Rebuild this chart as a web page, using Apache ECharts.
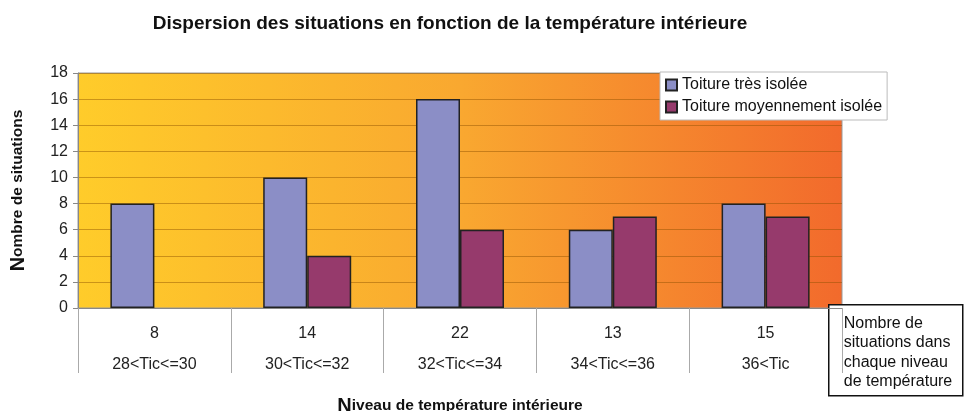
<!DOCTYPE html>
<html>
<head>
<meta charset="utf-8">
<script src="https://cdn.jsdelivr.net/npm/echarts@6/dist/echarts.min.js"></script>
<style>
  html, body { margin: 0; padding: 0; background: #fff; }
  #chart { width: 964px; height: 411px; }
</style>
</head>
<body>
<div id="chart"></div>
<script>
// categories and values
var categories = ["28<Tic<=30", "30<Tic<=32", "32<Tic<=34", "34<Tic<=36", "36<Tic"];
var totals = [8, 14, 22, 13, 15];
var tresIsolee = [8, 10, 16, 6, 8];
var moyIsolee = [0, 4, 6, 7, 7];
var yTicks = [0, 2, 4, 6, 8, 10, 12, 14, 16, 18];

var font = "Liberation Sans, Arial, sans-serif";
var myChart = echarts.init(document.getElementById("chart"));

// a zero bar is not drawn at all (no flat border line)
function noZero(arr) {
  return arr.map(function (v) { return v === 0 ? "-" : v; });
}

var option = {
  animation: false,
  textStyle: { fontFamily: font },
  title: {
    text: "Dispersion des situations en fonction de la température intérieure",
    left: 445,
    textAlign: "center",
    top: 9,
    textStyle: { fontSize: 19, fontWeight: "bold", color: "#111", fontFamily: font }
  },
  legend: {
    orient: "vertical",
    left: 660,
    top: 72,
    backgroundColor: "#fff",
    borderColor: "#bbb",
    borderWidth: 1,
    borderRadius: 0,
    padding: [5, 5, 5, 5],
    itemGap: 6,
    itemWidth: 11,
    itemHeight: 11,
    icon: "rect",
    textStyle: { fontSize: 16, color: "#111", fontFamily: font },
    data: ["Toiture très isolée", "Toiture moyennement isolée"]
  },
  grid: {
    left: 78,
    right: 122,
    top: 73,
    bottom: 103,
    outerBoundsMode: "none",
    containLabel: false,
    show: true,
    borderColor: "#999",
    borderWidth: 1,
    backgroundColor: {
      type: "linear", x: 0, y: 0, x2: 1, y2: 0,
      colorStops: [
        { offset: 0, color: "#FFCC2A" },
        { offset: 0.5, color: "#F9A830" },
        { offset: 1, color: "#F26A2C" }
      ]
    }
  },
  xAxis: {
    type: "category",
    data: categories,
    name: "{a|N}{b|iveau de température intérieure}",
    nameLocation: "middle",
    nameGap: 88,
    nameTextStyle: {
      rich: {
        a: { fontSize: 20, fontWeight: "bold", color: "#111", fontFamily: font },
        b: { fontSize: 15.5, fontWeight: "bold", color: "#111", fontFamily: font }
      }
    },
    axisLine: { lineStyle: { color: "#888", width: 1 } },
    axisTick: { show: true, length: 65, lineStyle: { color: "#aaa" } },
    axisLabel: {
      margin: 10,
      formatter: function (v, i) {
        return "{t|" + totals[i] + "}\n{c|" + v + "}";
      },
      rich: {
        t: { fontSize: 16, color: "#222", lineHeight: 31, fontFamily: font },
        c: { fontSize: 16, color: "#222", lineHeight: 31, fontFamily: font }
      }
    }
  },
  yAxis: {
    type: "value",
    min: 0,
    max: 18,
    interval: 2,
    name: "{a|N}{b|ombre de situations}",
    nameLocation: "middle",
    nameRotate: 90,
    nameGap: 50,
    nameTextStyle: {
      rich: {
        a: { fontSize: 20, fontWeight: "bold", color: "#111", fontFamily: font },
        b: { fontSize: 15.5, fontWeight: "bold", color: "#111", fontFamily: font }
      }
    },
    axisLine: { show: true, lineStyle: { color: "#888" } },
    axisTick: { show: true, length: 5, lineStyle: { color: "#888" } },
    axisLabel: {
      fontSize: 16, color: "#222", margin: 10,
      formatter: function (v) { return yTicks.indexOf(v) >= 0 ? String(v) : ""; }
    },
    splitLine: { lineStyle: { color: "rgba(140,80,0,0.45)", width: 1 } }
  },
  series: [
    {
      name: "Toiture très isolée",
      type: "bar",
      data: noZero(tresIsolee),
      barWidth: 44,
      barGap: "0%",
      itemStyle: { color: "#8B8EC6", borderColor: "#222", borderWidth: 1.5 }
    },
    {
      name: "Toiture moyennement isolée",
      type: "bar",
      data: noZero(moyIsolee),
      barWidth: 44,
      itemStyle: { color: "#963A6C", borderColor: "#222", borderWidth: 1.5 }
    }
  ],
  graphic: [
    {
      type: "group",
      left: 828,
      top: 304,
      children: [
        {
          type: "rect",
          shape: { x: 0, y: 0, width: 134, height: 91 },
          style: { fill: "#fff", stroke: "#111", lineWidth: 1.5 }
        },
        {
          type: "text",
          x: 15,
          y: 9,
          style: {
            text: "Nombre de\nsituations dans\nchaque niveau\nde température",
            fontSize: 16,
            lineHeight: 19.5,
            fill: "#111",
            fontFamily: font
          }
        }
      ]
    }
  ]
};

window.onresize = myChart.resize;
myChart.setOption(option);
</script>
</body>
</html>
